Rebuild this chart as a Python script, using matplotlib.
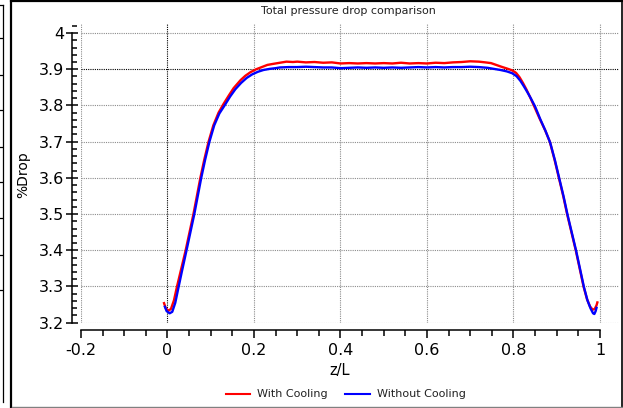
import matplotlib
matplotlib.use("Agg")
import matplotlib.pyplot as plt
from matplotlib.lines import Line2D
from matplotlib.ticker import MultipleLocator, FuncFormatter

# ---------------- data ----------------
red_z = [-0.008, -0.004, 0.002, 0.008, 0.015, 0.022, 0.030, 0.042, 0.051, 0.060,
         0.068, 0.076, 0.085, 0.095, 0.106, 0.118, 0.130, 0.142, 0.153, 0.169,
         0.180, 0.192, 0.205, 0.218, 0.231, 0.245, 0.260, 0.275, 0.290, 0.300,
         0.320, 0.340, 0.360, 0.380, 0.400, 0.420, 0.440, 0.460, 0.480, 0.500,
         0.520, 0.540, 0.560, 0.580, 0.600, 0.620, 0.640, 0.660, 0.680, 0.700,
         0.720, 0.735, 0.748, 0.760, 0.772, 0.785, 0.797, 0.806, 0.814, 0.822,
         0.830, 0.838, 0.847, 0.860, 0.873, 0.884, 0.895, 0.905, 0.915, 0.924,
         0.934, 0.944, 0.953, 0.962, 0.970, 0.977, 0.983, 0.988, 0.992, 0.994]
red_v = [3.254, 3.240, 3.233, 3.238, 3.262, 3.300, 3.340, 3.400, 3.450, 3.500,
         3.550, 3.600, 3.650, 3.700, 3.745, 3.780, 3.805, 3.828, 3.848, 3.870,
         3.882, 3.892, 3.900, 3.906, 3.912, 3.915, 3.918, 3.921, 3.920, 3.921,
         3.919, 3.920, 3.918, 3.919, 3.916, 3.917, 3.916, 3.917, 3.916, 3.917,
         3.916, 3.918, 3.916, 3.917, 3.916, 3.918, 3.917, 3.919, 3.920, 3.922,
         3.921, 3.919, 3.917, 3.912, 3.907, 3.902, 3.897, 3.890, 3.878, 3.862,
         3.844, 3.824, 3.800, 3.765, 3.732, 3.700, 3.650, 3.600, 3.550, 3.500,
         3.450, 3.400, 3.350, 3.300, 3.265, 3.245, 3.236, 3.238, 3.248, 3.256]

blue_z = [-0.006, -0.002, 0.005, 0.011, 0.018, 0.025, 0.033, 0.044, 0.053, 0.062,
          0.070, 0.078, 0.087, 0.097, 0.108, 0.120, 0.132, 0.145, 0.157, 0.170,
          0.183, 0.196, 0.209, 0.222, 0.236, 0.250, 0.260, 0.280, 0.300, 0.320,
          0.340, 0.360, 0.380, 0.400, 0.420, 0.440, 0.460, 0.480, 0.500, 0.520,
          0.540, 0.560, 0.580, 0.600, 0.620, 0.640, 0.660, 0.680, 0.700, 0.720,
          0.740, 0.755, 0.770, 0.785, 0.797, 0.807, 0.816, 0.824, 0.832, 0.840,
          0.850, 0.862, 0.874, 0.885, 0.896, 0.906, 0.916, 0.925, 0.935, 0.945,
          0.954, 0.963, 0.971, 0.978, 0.984, 0.987, 0.990, 0.992]
blue_v = [3.244, 3.232, 3.226, 3.230, 3.255, 3.295, 3.340, 3.400, 3.450, 3.500,
          3.550, 3.600, 3.650, 3.700, 3.745, 3.778, 3.800, 3.825, 3.845, 3.862,
          3.876, 3.886, 3.893, 3.898, 3.901, 3.903, 3.905, 3.906, 3.906, 3.907,
          3.906, 3.905, 3.905, 3.903, 3.904, 3.905, 3.904, 3.905, 3.904, 3.905,
          3.904, 3.905, 3.906, 3.905, 3.906, 3.905, 3.906, 3.906, 3.907, 3.906,
          3.904, 3.901, 3.898, 3.894, 3.889, 3.881, 3.868, 3.853, 3.837, 3.820,
          3.797, 3.762, 3.730, 3.697, 3.648, 3.598, 3.548, 3.498, 3.448, 3.398,
          3.348, 3.298, 3.262, 3.240, 3.226, 3.224, 3.232, 3.241]

x_ticks = [-0.2, 0, 0.2, 0.4, 0.6, 0.8, 1]
y_ticks = [3.2, 3.3, 3.4, 3.5, 3.6, 3.7, 3.8, 3.9, 4]
series_labels = ["With Cooling", "Without Cooling"]
series_colors = ["#ff0000", "#0000ff"]
title = "Total pressure drop comparison"
xlabel = "z/L"
ylabel = "%Drop"

# ---------------- figure ----------------
W, H = 623, 408
fig = plt.figure(figsize=(W / 100, H / 100), dpi=100)

def fx(px):
    return px / W

def fy(py):
    return 1 - py / H

ax = fig.add_axes([fx(81), fy(322.7), fx(619) - fx(81), fy(24) - fy(322.7)])
ax.set_xlim(-0.2, 1.044)
ax.set_ylim(3.2, 4.025)

# grid
dash = (0, (1.0, 1.0))
for t in x_ticks:
    col = "black" if t == 0 else "#8c8c8c"
    ax.axvline(t, color=col, lw=0.8, linestyle=dash, zorder=1)
for t in y_ticks:
    col = "black" if abs(t - 3.9) < 1e-9 else "#8c8c8c"
    ax.axhline(t, color=col, lw=0.8, linestyle=dash, zorder=1)

ax.plot(red_z, red_v, color=series_colors[0], lw=1.7, zorder=3, solid_joinstyle="round")
ax.plot(blue_z, blue_v, color=series_colors[1], lw=1.7, zorder=4, solid_joinstyle="round")

# spines
ax.spines["top"].set_visible(False)
ax.spines["right"].set_visible(False)
ax.spines["bottom"].set_position(("outward", 5.4))
ax.spines["left"].set_position(("outward", 6.5))
ax.spines["bottom"].set_bounds(-0.2, 1)
ax.spines["left"].set_bounds(3.2, 4)
for s in ("bottom", "left"):
    ax.spines[s].set_linewidth(1.1)

ax.set_xticks(x_ticks)
ax.set_yticks(y_ticks)
ax.xaxis.set_minor_locator(MultipleLocator(0.05))
ax.yaxis.set_minor_locator(MultipleLocator(0.02))
fmt = FuncFormatter(lambda v, p: ("%g" % round(v, 3)) if abs(v) > 1e-9 else "0")
ax.xaxis.set_major_formatter(fmt)
ax.yaxis.set_major_formatter(fmt)
ax.tick_params(axis="x", which="major", direction="out", length=6, width=1.1,
               labelsize=11.5, pad=3)
ax.tick_params(axis="x", which="minor", direction="out", length=4, width=1.1)
ax.tick_params(axis="y", which="major", direction="inout", length=9, width=1.1,
               labelsize=11.5, pad=1)
ax.tick_params(axis="y", which="minor", direction="in", length=3.5, width=1.1)
ax.patch.set_visible(False)

# texts
fig.text(fx(348), fy(11), title, ha="center", va="center", fontsize=8, color="#222222")
fig.text(fx(340), fy(371), xlabel, ha="center", va="center", fontsize=10.5, color="black")
fig.text(fx(23), fy(175), ylabel, ha="center", va="center", rotation=90,
         fontsize=10, color="black")

# legend (manual)
ly = fy(394)
fig.add_artist(Line2D([fx(226), fx(250)], [ly, ly], color=series_colors[0], lw=1.5))
fig.text(fx(257), ly, series_labels[0], ha="left", va="center", fontsize=8, color="#222222")
fig.add_artist(Line2D([fx(345), fx(370)], [ly, ly], color=series_colors[1], lw=1.5))
fig.text(fx(377), ly, series_labels[1], ha="left", va="center", fontsize=8, color="#222222")

# panel frame
fig.add_artist(Line2D([fx(11), fx(11)], [0, 1], color="black", lw=1.6))
fig.add_artist(Line2D([fx(11), 1], [fy(0.8), fy(0.8)], color="black", lw=1.6))
fig.add_artist(Line2D([fx(621.5), fx(621.5)], [0, 1], color="black", lw=1.2))
fig.add_artist(Line2D([fx(12), 1], [fy(406.5), fy(406.5)], color="#808080", lw=1.0))
# neighbouring panel strip on the left
fig.add_artist(Line2D([fx(3), fx(3)], [fy(5), fy(402)], color="black", lw=0.9))
fig.add_artist(Line2D([0, fx(3)], [fy(5), fy(5)], color="black", lw=0.9))
for py in [38, 75, 110, 147, 182, 218, 255, 290]:
    fig.add_artist(Line2D([0, fx(1.5)], [fy(py), fy(py)], color="black", lw=0.9))

fig.savefig("out.png", dpi=100)
